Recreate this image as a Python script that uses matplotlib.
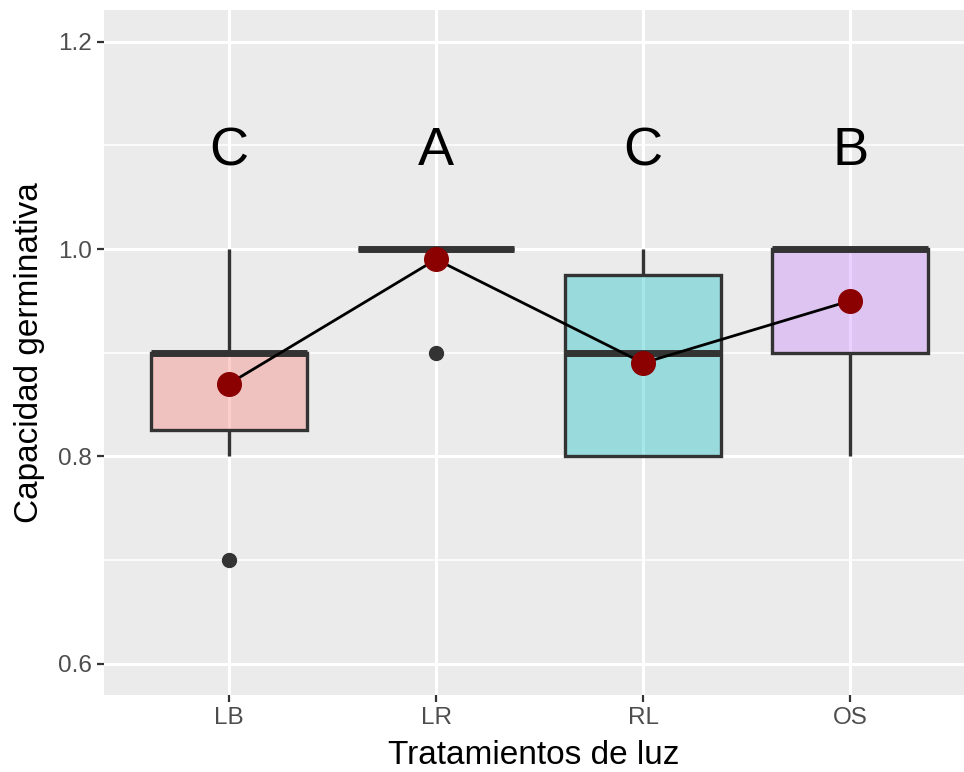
import matplotlib
matplotlib.use("Agg")
import matplotlib.pyplot as plt
from matplotlib.colors import to_rgba

# Germination capacity by light treatment
categories = ["LB", "LR", "RL", "OS"]
q1 = [0.825, 1.0, 0.8, 0.9]
median = [0.9, 1.0, 0.9, 1.0]
q3 = [0.9, 1.0, 0.975, 1.0]
whisker_low = [0.8, 1.0, 0.8, 0.8]
whisker_high = [1.0, 1.0, 1.0, 1.0]
outliers = [[0.7], [0.9], [], []]
means = [0.87, 0.99, 0.89, 0.95]
letters = ["C", "A", "C", "B"]
letter_y = 1.081
fills = ["#F8766D", "#7CAE00", "#00BFC4", "#C77CFF"]

plt.rcParams["font.family"] = ["Liberation Sans", "DejaVu Sans"]

W, H = 964, 772
fig = plt.figure(figsize=(W / 100, H / 100), dpi=100)
ax = fig.add_axes([104 / W, (H - 695) / H, 860 / W, 685 / H])
ax.set_facecolor("#EBEBEB")
for s in ax.spines.values():
    s.set_visible(False)

pos = list(range(1, len(categories) + 1))
stats = []
for i, c in enumerate(categories):
    stats.append(dict(label=c, q1=q1[i], med=median[i], q3=q3[i],
                      whislo=whisker_low[i], whishi=whisker_high[i],
                      fliers=outliers[i], mean=means[i]))

edge = "#333333"
bp = ax.bxp(stats, positions=pos, widths=0.75, patch_artist=True,
            showcaps=False, showmeans=False, manage_ticks=False,
            boxprops=dict(edgecolor=edge, linewidth=2.4),
            whiskerprops=dict(color=edge, linewidth=2.4, solid_capstyle="butt"),
            medianprops=dict(color=edge, linewidth=5.0, solid_capstyle="butt"),
            flierprops=dict(marker="o", markerfacecolor=edge, markeredgecolor=edge,
                            markersize=10, linestyle="none"))
for patch, col in zip(bp["boxes"], fills):
    patch.set_facecolor(to_rgba(col, 0.35))
    patch.set_zorder(2)
for k in ("whiskers", "medians", "fliers"):
    for art in bp[k]:
        art.set_zorder(3)

# mean trend line and points
ax.plot(pos, means, color="black", linewidth=2.0, zorder=4)
ax.plot(pos, means, linestyle="none", marker="o", markersize=17,
        markerfacecolor="#8B0000", markeredgecolor="#8B0000", zorder=5)

for p, t in zip(pos, letters):
    ax.text(p, letter_y, t, ha="center", va="baseline", fontsize=39, color="black")

ax.set_xlim(0.396, 4.55)
ax.set_ylim(0.5697, 1.2306)
ax.set_xticks(pos)
ax.set_xticklabels(categories)
ax.set_yticks([0.6, 0.8, 1.0, 1.2])
ax.set_yticklabels(["0.6", "0.8", "1.0", "1.2"])
ax.set_yticks([0.7, 0.9, 1.1], minor=True)

ax.set_axisbelow(True)
ax.grid(True, which="major", color="white", linewidth=2.2)
ax.grid(True, which="minor", axis="y", color="white", linewidth=1.1)
ax.tick_params(which="major", length=5, width=1.6, color=edge,
               labelsize=17.5, labelcolor="#4D4D4D")
ax.tick_params(axis="y", which="major", pad=4)
ax.tick_params(axis="x", which="major", pad=4)
ax.tick_params(which="minor", length=0)

fig.text((104 + 964) / 2 / W, 1 - 755 / H, "Tratamientos de luz",
         ha="center", va="center", fontsize=24, color="black")
fig.text(30 / W, 1 - (10 + 695) / 2 / H, "Capacidad germinativa",
         ha="center", va="center", rotation=90, fontsize=24, color="black")

fig.savefig("out.png", dpi=100)
